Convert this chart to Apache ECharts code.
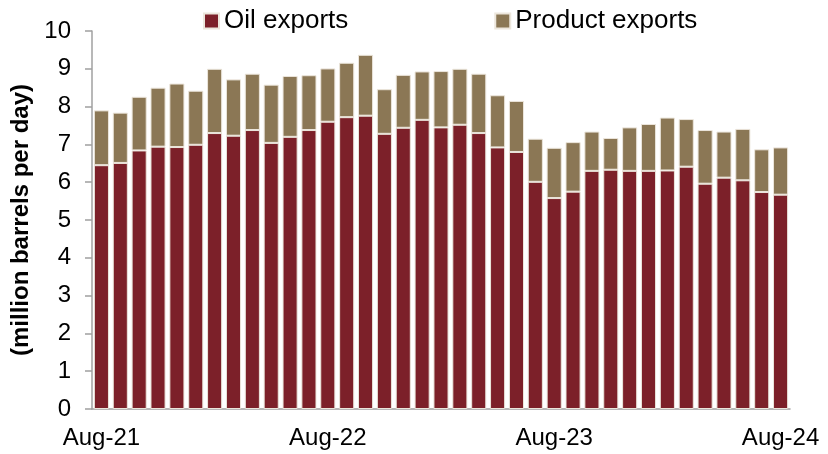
<!DOCTYPE html>
<html><head><meta charset="utf-8">
<script src="https://cdn.jsdelivr.net/npm/echarts@6/dist/echarts.min.js"></script>
<style>html,body{margin:0;padding:0;background:#fff}#c{width:828px;height:454px}</style>
</head><body><div id="c"></div>
<script>
var months = ['Aug-21','Sep-21','Oct-21','Nov-21','Dec-21','Jan-22','Feb-22','Mar-22','Apr-22','May-22','Jun-22','Jul-22',
  'Aug-22','Sep-22','Oct-22','Nov-22','Dec-22','Jan-23','Feb-23','Mar-23','Apr-23','May-23','Jun-23','Jul-23',
  'Aug-23','Sep-23','Oct-23','Nov-23','Dec-23','Jan-24','Feb-24','Mar-24','Apr-24','May-24','Jun-24','Jul-24','Aug-24'];
var oilExports = [6.45,6.51,6.84,6.94,6.93,6.99,7.30,7.23,7.38,7.04,7.20,7.38,
  7.60,7.72,7.76,7.28,7.44,7.65,7.45,7.52,7.30,6.92,6.80,6.01,
  5.58,5.75,6.30,6.33,6.30,6.30,6.31,6.41,5.96,6.12,6.05,5.74,5.67];
var totalExports = [7.90,7.84,8.26,8.50,8.61,8.42,9.00,8.72,8.87,8.58,8.81,8.83,
  9.01,9.16,9.37,8.46,8.84,8.93,8.94,9.00,8.87,8.30,8.15,7.15,
  6.91,7.06,7.34,7.17,7.45,7.54,7.71,7.67,7.38,7.34,7.41,6.87,6.92];
var productExports = totalExports.map(function(t,i){return Math.round((t-oilExports[i])*100)/100;});
var yTicks = [0,1,2,3,4,5,6,7,8,9,10];

var chart = echarts.init(document.getElementById('c'));
var font = 'Liberation Sans, Arial, sans-serif';
chart.setOption({
  animation:false,
  textStyle:{fontFamily:font},
  legend:{
    top:3, left:198, itemWidth:15, itemHeight:15, itemGap:146, icon:'rect',
    textStyle:{fontSize:26, color:'#000', fontFamily:font},
    data:['Oil exports','Product exports']
  },
  grid:{left:92, right:38, top:31, bottom:45},
  xAxis:{
    type:'category', data:months, boundaryGap:true,
    axisLine:{lineStyle:{color:'#a0a0a0', width:1.5}},
    axisTick:{length:7, interval:function(i){return i%12===0;}, lineStyle:{color:'#a0a0a0', width:1.5}},
    axisLabel:{
      interval:function(i){return i%12===0;},
      margin:17, fontSize:24, color:'#000', fontFamily:font
    }
  },
  yAxis:{
    type:'value', min:yTicks[0], max:yTicks[yTicks.length-1], interval:1,
    name:'(million barrels per day)', nameLocation:'middle', nameGap:49,
    nameTextStyle:{fontSize:24, fontWeight:'bold', color:'#000', fontFamily:font},
    axisLine:{show:true, lineStyle:{color:'#a0a0a0', width:1.5}},
    axisTick:{show:true, length:7, lineStyle:{color:'#a0a0a0', width:1.5}},
    splitLine:{show:false},
    axisLabel:{fontSize:24, color:'#000', margin:21, fontFamily:font}
  },
  series:[
    {name:'Oil exports', type:'bar', stack:'t', data:oilExports, barCategoryGap:'20%',
     itemStyle:{color:'#7c2029', borderColor:'#ece6dc', borderWidth:1}},
    {name:'Product exports', type:'bar', stack:'t', data:productExports,
     itemStyle:{color:'#8b7755', borderColor:'#ece6dc', borderWidth:1}}
  ]
});
</script></body></html>
